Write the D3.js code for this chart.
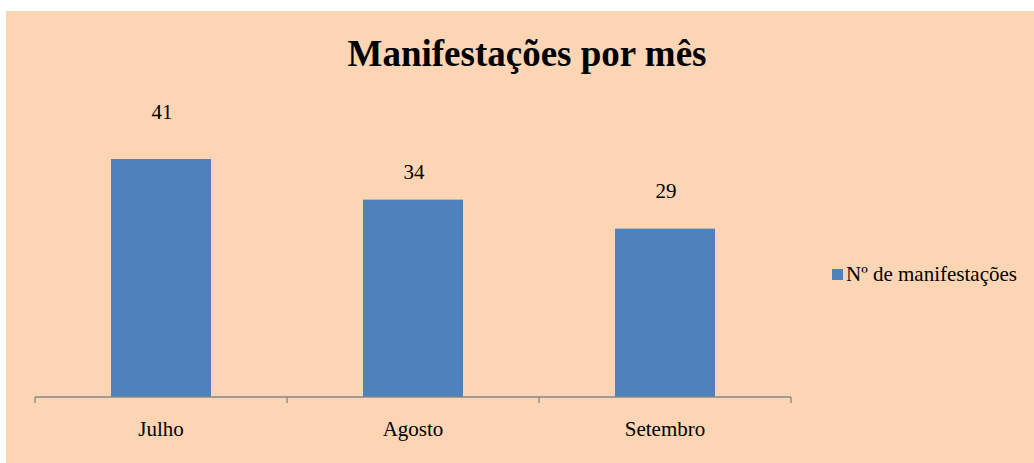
<!DOCTYPE html>
<html><head><meta charset="utf-8">
<script src="https://cdn.jsdelivr.net/npm/d3@7"></script>
<style>body{margin:0;background:#fff;}svg{display:block;}svg text{font-family:"Liberation Serif","Times New Roman",Times,serif;}</style>
</head><body>
<svg id="c" width="1034" height="463"></svg>
<script>
const categories = ["Julho", "Agosto", "Setembro"];
const values = [41, 34, 29];
const seriesName = "Nº de manifestações";
const title = "Manifestações por mês";
const labelOffsets = [40, 21, 31];

const svg = d3.select("#c");
svg.append("rect").attr("x", 6).attr("y", 11).attr("width", 1028).attr("height", 452).attr("fill", "#FCD5B5");

const x = d3.scaleBand().domain(categories).range([35, 791]).paddingInner(0).paddingOuter(0);
const y = d3.scaleLinear().domain([0, 41]).range([397, 159]);

svg.append("text").attr("x", 527).attr("y", 66).attr("text-anchor", "middle")
  .style("font-weight", "bold").style("font-size", "37px").text(title);

const barW = 100;
svg.selectAll("rect.bar").data(values).enter().append("rect").attr("class", "bar")
  .attr("x", (d, i) => x(categories[i]) + x.bandwidth() / 2 - barW / 2)
  .attr("width", barW)
  .attr("y", d => y(d)).attr("height", d => y(0) - y(d))
  .attr("fill", "#4F81BD");

svg.selectAll("text.lbl").data(values).enter().append("text").attr("class", "lbl")
  .attr("x", (d, i) => x(categories[i]) + x.bandwidth() / 2 + 1)
  .attr("y", (d, i) => y(d) - labelOffsets[i])
  .attr("text-anchor", "middle").style("font-size", "21px")
  .text(d => d);

const axis = d3.axisBottom(x).tickSize(0).tickPadding(24);
const g = svg.append("g").attr("transform", "translate(0,397)").call(axis);
g.attr("font-family", null).attr("font-size", null);
g.select(".domain").attr("stroke", "#868686").attr("stroke-width", 1.3).attr("d", "M35,0H791");
g.selectAll("text").style("font-size", "21px").attr("fill", "#000");
const tickPos = categories.map(c => x(c)).concat([x(categories[categories.length - 1]) + x.bandwidth()]);
g.selectAll("line.tk").data(tickPos).enter().append("line").attr("class", "tk")
  .attr("x1", d => d).attr("x2", d => d).attr("y1", 0).attr("y2", 6)
  .attr("stroke", "#868686").attr("stroke-width", 1.3);

const lg = svg.append("g");
lg.append("rect").attr("x", 832).attr("y", 269).attr("width", 11).attr("height", 11).attr("fill", "#4F81BD");
lg.append("text").attr("x", 846).attr("y", 281).style("font-size", "21px").text(seriesName);
</script>
</body></html>
